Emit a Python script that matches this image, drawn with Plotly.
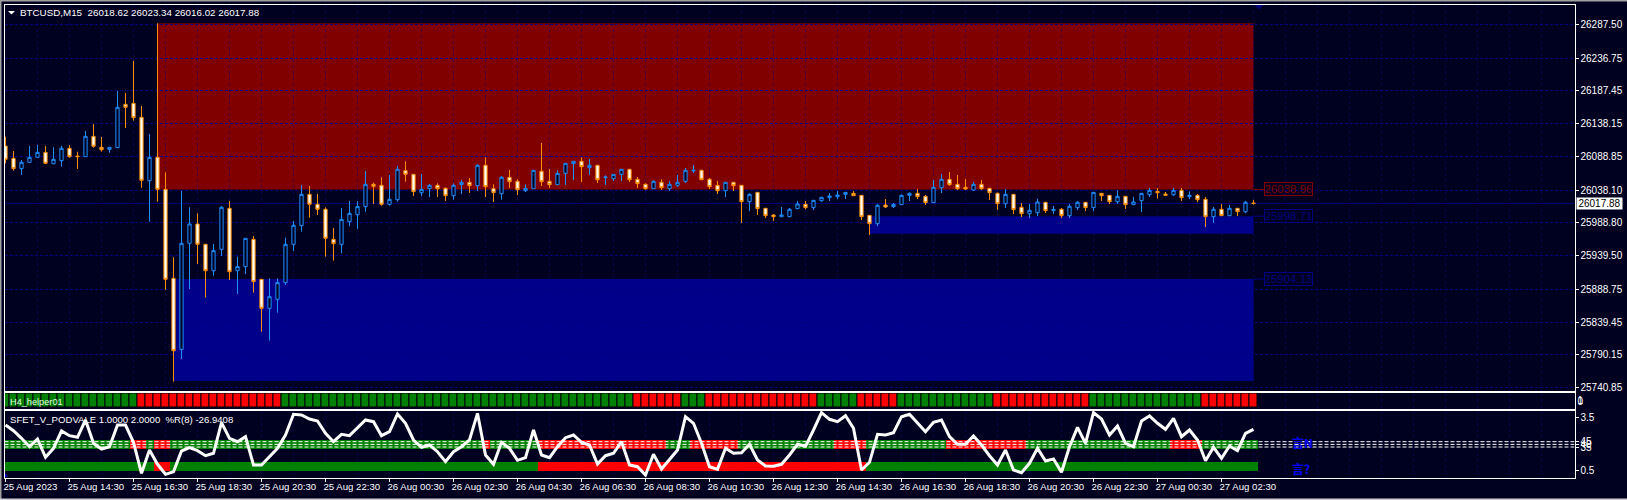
import plotly.graph_objects as go

W, H = 1627, 500
BG = "#000020"
NAVY = "#000080"
MAROON = "#800000"
DARKBLUE = "#00008B"
BULL = "#1E90FF"
BEAR = "#FF8C00"
FONT = "Liberation Sans"

header_text = "BTCUSD,M15  26018.62 26023.34 26016.02 26017.88"
helper_text = "H4_helper01"
indicator_text = "SFET_V_PODVALE 1.0000 2.0000  %R(8) -26.9408"
last_price = 26017.88

highs = [
26118.4,26096.8,26083.3,26104.4,26105.9,26104.4,26102.4,26104.4,26105.9,26095.8,
26126.9,26137.5,26117.9,26102.4,26187.1,26184.1,26232.3,26164.6,26122.4,26289.0,
26064.7,25936.8,26036.6,26012.1,26003.0,25956.9,25956.9,26014.1,26021.6,25937.8,
25965.4,25968.9,25903.7,25905.2,25905.2,25966.4,25991.5,26045.7,26044.2,26032.1,
26012.1,25981.0,26011.1,26021.6,26021.6,26066.7,26049.2,26057.2,26060.7,26074.3,
26081.3,26061.7,26062.2,26047.2,26048.2,26042.2,26048.2,26053.2,26056.2,26076.8,
26087.3,26046.7,26059.2,26068.3,26054.2,26046.7,26068.3,26108.9,26069.8,26067.8,
26078.8,26081.8,26087.3,26084.8,26075.8,26060.2,26061.7,26069.3,26069.3,26057.7,
26048.2,26052.7,26054.2,26051.7,26060.7,26071.3,26075.8,26068.3,26056.2,26051.7,
26050.2,26050.2,26045.7,26033.1,26034.6,26011.1,26002.0,26012.6,26011.1,26021.6,
26021.6,26023.1,26027.1,26033.6,26036.6,26034.6,26036.6,26030.1,26000.0,26017.1,
26024.6,26018.6,26031.6,26034.6,26039.6,26030.6,26053.2,26062.2,26065.2,26060.7,
26054.7,26050.2,26053.2,26041.2,26034.6,26039.6,26032.1,26018.6,26017.1,26025.1,
26020.1,26014.1,26011.1,26017.1,26021.6,26019.6,26034.6,26033.1,26030.1,26038.1,
26029.1,26027.6,26033.1,26041.2,26041.2,26035.1,26041.2,26041.2,26036.1,26032.1,
26027.6,26012.6,26017.1,26015.6,26010.6,26021.6,26023.34]

body_tops = [
26104.4,26085.8,26079.8,26087.3,26094.8,26094.8,26084.3,26100.9,26100.9,26089.3,
26118.9,26118.9,26102.4,26102.4,26162.6,26167.1,26168.6,26147.5,26087.3,26087.3,
26039.1,25905.2,25957.9,25987.0,25987.0,25956.4,25946.9,26012.1,26010.6,25922.8,
25965.4,25963.9,25903.7,25877.6,25898.7,25956.4,25985.0,26031.6,26031.6,26016.6,
26009.1,25963.9,25994.0,26003.0,26013.1,26046.7,26046.7,26045.2,26024.1,26069.3,
26067.3,26061.7,26039.1,26045.2,26045.2,26040.6,26045.2,26049.7,26049.7,26075.3,
26075.3,26040.1,26057.2,26057.2,26051.2,26040.6,26067.8,26066.3,26051.2,26063.2,
26078.3,26081.3,26081.3,26075.3,26075.3,26057.7,26061.7,26069.3,26069.3,26054.2,
26046.7,26051.2,26049.7,26046.7,26049.7,26067.8,26067.8,26067.8,26054.2,26045.2,
26049.7,26049.7,26045.2,26031.6,26034.6,26010.6,26000.5,26000.5,26009.1,26017.1,
26016.6,26022.6,26027.1,26029.1,26030.6,26034.6,26033.1,26030.1,26000.0,26015.1,
26015.6,26016.6,26030.1,26033.1,26033.1,26028.6,26042.2,26054.2,26054.2,26046.7,
26042.2,26046.7,26046.7,26040.6,26033.1,26031.6,26031.6,26012.1,26007.6,26020.1,
26019.6,26009.1,26009.1,26013.6,26019.6,26019.6,26034.6,26033.1,26030.1,26028.6,
26028.6,26020.1,26033.1,26037.6,26036.1,26032.1,26037.6,26037.6,26030.1,26030.1,
26024.1,26009.1,26009.1,26010.6,26010.6,26019.6,26018.62]

body_bottoms = [
26084.3,26070.3,26070.3,26079.8,26087.3,26078.3,26077.8,26082.3,26088.3,26088.3,
26088.3,26103.9,26098.8,26099.3,26101.9,26162.6,26147.0,26052.7,26052.2,26039.1,
25903.7,25796.3,25798.3,25957.9,25956.4,25916.7,25916.7,25948.9,25915.2,25916.7,
25922.8,25900.2,25860.0,25860.0,25873.6,25898.7,25956.4,25984.5,26016.6,26009.1,
25965.4,25957.4,25956.4,25990.5,26001.0,26013.1,26043.7,26016.6,26016.6,26023.6,
26061.7,26035.6,26034.1,26040.1,26040.1,26029.6,26029.6,26046.2,26044.7,26044.7,
26043.2,26034.1,26032.6,26050.7,26038.6,26037.1,26040.1,26050.7,26046.2,26046.2,
26063.2,26077.8,26073.3,26071.8,26053.7,26056.7,26055.2,26061.7,26053.7,26047.7,
26040.1,26040.1,26041.7,26040.1,26045.2,26051.2,26066.8,26053.7,26043.2,26037.1,
26037.1,26044.7,26020.6,26020.6,26010.1,25999.5,25998.0,25998.0,25998.0,26010.1,
26011.6,26011.6,26022.1,26026.6,26028.1,26031.6,26029.6,25998.0,25987.5,25987.5,
26012.6,26013.1,26016.1,26030.1,26028.1,26019.1,26019.1,26041.7,26046.2,26040.1,
26039.6,26038.1,26040.1,26034.1,26017.6,26017.6,26008.6,26002.5,26002.5,26004.0,
26007.1,26007.1,25999.5,25999.5,26011.6,26011.6,26011.6,26029.6,26020.6,26020.6,
26016.1,26016.1,26022.1,26031.1,26034.1,26030.1,26031.1,26026.6,26028.1,26023.6,
25998.0,25998.0,25999.5,25999.5,26005.5,26005.5,26017.88]

lows = [
26078.3,26067.3,26060.7,26079.3,26086.8,26077.3,26076.8,26073.3,26086.8,26069.8,
26088.3,26101.9,26095.8,26094.3,26101.9,26131.5,26142.5,26041.6,25990.5,26020.6,
25887.7,25749.7,25783.8,25889.2,25926.8,25876.1,25909.2,25938.8,25902.7,25881.6,
25911.7,25883.6,25824.9,25811.4,25853.5,25895.2,25946.4,25975.5,25996.5,26000.5,
25937.8,25931.8,25942.9,25983.5,25979.9,26005.5,26017.1,26014.6,26014.6,26020.6,
26050.7,26029.1,26029.1,26027.6,26027.6,26021.6,26023.6,26032.1,26033.6,26036.6,
26027.6,26020.1,26023.6,26041.2,26030.6,26035.1,26040.1,26044.2,26041.2,26045.7,
26045.7,26053.2,26050.2,26060.7,26048.7,26045.7,26051.7,26051.7,26050.2,26041.2,
26038.6,26039.6,26038.1,26036.6,26042.7,26048.7,26063.7,26053.2,26039.6,26032.1,
26027.6,26036.6,25988.5,26006.5,26000.5,25996.0,25991.5,25998.0,25997.5,26009.6,
26009.1,26008.1,26020.1,26021.6,26024.6,26024.6,26029.1,25993.0,25970.4,25984.0,
26011.1,26011.1,26015.6,26021.6,26024.6,26015.6,26018.6,26033.6,26044.2,26038.1,
26038.1,26036.6,26038.1,26023.1,26008.1,26011.1,26002.0,25997.5,25996.0,25999.0,
26003.5,26002.0,25996.0,25996.0,26008.1,26006.5,26006.5,26021.6,26017.1,26017.1,
26009.6,26015.6,26005.0,26027.6,26025.1,26029.6,26029.1,26021.6,26024.6,26020.1,
25982.5,25988.5,25999.0,25999.0,25999.0,26003.5,26016.02]

bearish_bars = [0,1,5,8,9,11,12,15,16,17,19,20,21,24,25,28,31,32,38,39,40,41,46,47,50,51,
54,55,58,60,61,63,64,67,68,72,74,78,79,80,82,87,88,89,91,92,94,95,96,100,106,107,108,110,
114,115,118,119,120,122,123,124,126,127,130,132,135,137,138,140,144,145,147,149,150,152,154,156]

williams_r = [
-20.0,-29.1,-41.3,-54.7,-42.4,-71.7,-57.3,-29.6,-37.1,-39.7,
-12.0,-49.3,-58.4,-54.7,-20.0,-20.0,-47.7,-97.3,-60.0,-82.9,
-98.9,-94.7,-61.6,-56.3,-61.1,-69.1,-65.3,-16.3,-41.3,-46.7,
-38.7,-84.0,-84.0,-70.7,-57.3,-36.0,-2.9,-4.0,-10.4,-13.6,
-33.3,-46.7,-34.9,-37.1,-24.3,-12.0,-14.7,-37.1,-30.7,-2.4,
-17.3,-44.0,-55.7,-52.0,-62.7,-78.7,-62.7,-54.7,-44.0,-1.3,
-68.0,-82.9,-47.7,-57.3,-76.5,-72.3,-28.0,-68.0,-72.3,-54.7,
-40.3,-36.0,-47.7,-52.0,-82.4,-69.1,-65.3,-46.7,-84.0,-86.7,
-100.0,-66.9,-90.4,-74.4,-60.0,-6.7,-17.3,-49.3,-86.7,-90.9,
-57.3,-65.3,-64.3,-50.9,-76.0,-85.6,-86.1,-82.9,-68.0,-50.9,
-54.1,-28.0,-0.1,-10.9,-14.7,-5.1,-25.3,-92.0,-79.7,-34.9,
-36.0,-32.3,-6.7,-2.9,-16.3,-30.7,-15.7,-12.0,-38.7,-50.9,
-50.9,-37.6,-52.0,-69.1,-84.0,-60.0,-92.0,-96.3,-81.3,-57.3,
-77.6,-74.4,-95.7,-54.7,-23.7,-49.3,-0.1,-10.4,-36.0,-21.6,
-49.3,-54.7,-13.6,-5.6,-17.3,-26.9,-9.3,-38.7,-28.0,-44.0,
-77.1,-55.7,-73.3,-53.6,-61.1,-33.3,-26.9408]

# Runs of bars drawn red in each colour strip (first, last), the rest are green
helper_red_runs = [(17,34),(79,84),(88,101),(107,111),(124,135),(150,156)]
upper_red_runs = [(16,17),(19,20),(60,60),(67,82),(86,91),(104,107),(118,127),(146,149)]
lower_red_runs = [(19,20),(67,107)]

upper_band = (1.75, 2.25)
lower_band = (0.5, 1.0)
level_values = [2.13, 1.98, 1.83]
level_labels = ["45", "40", "35"]
scale_ticks = [3.5, 0.5]

price_ticks = [26287.50,26236.75,26187.45,26138.15,26088.85,26038.10,25988.80,25939.50,
               25888.75,25839.45,25790.15,25740.85]
time_labels = ["25 Aug 2023","25 Aug 14:30","25 Aug 16:30","25 Aug 18:30","25 Aug 20:30",
 "25 Aug 22:30","26 Aug 00:30","26 Aug 02:30","26 Aug 04:30","26 Aug 06:30","26 Aug 08:30",
 "26 Aug 10:30","26 Aug 12:30","26 Aug 14:30","26 Aug 16:30","26 Aug 18:30","26 Aug 20:30",
 "26 Aug 22:30","27 Aug 00:30","27 Aug 02:30"]

zone_end = 156
# (first bar, top price, bottom price, colour)
zones = [(19, 26289.0, 26038.96, MAROON),
         (21, 25904.13, 25750.5, DARKBLUE),
         (108, 25998.71, 25972.4, DARKBLUE)]
zone_labels = [(26038.96, MAROON), (25998.71, NAVY), (25904.13, NAVY)]

n = len(highs)
x = list(range(n))
opens = [body_tops[i] if i in bearish_bars else body_bottoms[i] for i in x]
closes = [body_bottoms[i] if i in bearish_bars else body_tops[i] for i in x]


def run_colors(runs):
    red = {i for a, b in runs for i in range(a, b + 1)}
    return ["#FF0000" if i in red else "#008000" for i in x]


major = list(range(0, n, 8))
minor = [i for i in range(4, 196, 4) if i not in major]
x_range = [-0.125, 196.125]
VGRID = "rgba(0,0,128,0.45)"
grid = dict(showgrid=True, gridcolor=VGRID, griddash="3px,3px", gridwidth=1)


def px(v):
    return v / W


def py(v):
    return 1 - v / H


def xaxis(anchor, labels=False):
    d = dict(domain=[px(4.5), px(1574.5)], range=x_range, anchor=anchor, showline=True, mirror=True,
             linecolor="white", linewidth=1, zeroline=False, tickmode="array", tickvals=major,
             **grid, minor=dict(tickmode="array", tickvals=minor, showgrid=True,
                                gridcolor=VGRID, griddash="3px,3px", ticks=""))
    if labels:
        d.update(ticktext=time_labels, ticks="outside", ticklen=3, tickcolor="white", tickwidth=1,
                 showticklabels=True, ticklabelposition="outside right", tickangle=0, ticklabelshift=-3,
                 tickfont=dict(family=FONT, size=9.6, color="white"))
    else:
        d.update(ticks="", showticklabels=False)
    return d


fig = go.Figure()
fig.add_trace(go.Candlestick(
    x=x, open=opens, high=highs, low=lows, close=closes, xaxis="x", yaxis="y",
    increasing=dict(line=dict(color=BULL, width=1), fillcolor=BG),
    decreasing=dict(line=dict(color=BEAR, width=1), fillcolor="white"),
    whiskerwidth=0, hoverinfo="skip", showlegend=False))
fig.add_trace(go.Bar(x=x, y=[1] * n, base=0, width=1, xaxis="x2", yaxis="y2",
                     marker=dict(color=run_colors(helper_red_runs), line=dict(color="#000010", width=1)),
                     hoverinfo="skip", showlegend=False))
for band, runs in ((upper_band, upper_red_runs), (lower_band, lower_red_runs)):
    fig.add_trace(go.Bar(x=x, y=[band[1] - band[0]] * n, base=band[0], width=1, xaxis="x3", yaxis="y3",
                         marker=dict(color=run_colors(runs), line=dict(width=0)),
                         hoverinfo="skip", showlegend=False))
for lv in level_values:
    fig.add_trace(go.Scatter(x=x_range, y=[lv, lv], mode="lines", xaxis="x3", yaxis="y3",
                             line=dict(color="white", width=1, dash="4px,2px"),
                             hoverinfo="skip", showlegend=False))
fig.add_trace(go.Scatter(x=x, y=williams_r, mode="lines", xaxis="x3", yaxis="y4",
                         line=dict(color="white", width=3), hoverinfo="skip", showlegend=False))

shapes = []
for start, top, bottom, color in zones:
    shapes.append(dict(type="rect", xref="x", yref="y", x0=start, x1=zone_end, y0=bottom, y1=top,
                       fillcolor=color, line=dict(width=0), layer="below"))
shapes.append(dict(type="line", xref="x domain", yref="y", x0=0, x1=1, y0=last_price, y1=last_price,
                   line=dict(color=NAVY, width=1), layer="below"))
annotations = []
for price, color in zone_labels:
    shapes.append(dict(type="line", xref="x", yref="y", x0=zone_end, x1=157.4, y0=price, y1=price,
                       line=dict(color=color, width=1)))
    annotations.append(dict(xref="x", yref="y", x=157.35, y=price, xanchor="left", yanchor="middle",
                            text=f"{price:.2f}", showarrow=False, width=46, height=11, borderpad=0.5,
                            bordercolor=color, borderwidth=1, font=dict(family=FONT, size=11.5, color=color)))


def tri(x0, x1, y0, y1, color):
    xm = (x0 + x1) / 2
    return dict(type="path", xref="paper", yref="paper", fillcolor=color, line=dict(width=0),
                path=f"M {px(x0)} {py(y0)} L {px(x1)} {py(y0)} L {px(xm)} {py(y1)} Z")


shapes += [tri(8, 15, 11, 14.5, "white"), tri(1255, 1263, 5, 9.5, NAVY)]
shapes.append(dict(type="path", xref="paper", yref="paper", fillcolor="#0000C0", line=dict(width=0),
                   path=f"M {px(5)} {py(477)} L {px(8)} {py(477)} L {px(5)} {py(473)} Z"))
for a, b, c, d, col in ((0, W, 0, 1.5, "#A0A0A0"), (0, 1.5, 0, H, "#A0A0A0"), (0, W, 498.5, H, "#D0D0D0")):
    shapes.append(dict(type="rect", xref="paper", yref="paper", x0=px(a), x1=px(b), y0=py(c), y1=py(d),
                       fillcolor=col, line=dict(width=0)))

txt = dict(showarrow=False, xref="paper", yref="paper", xanchor="left", yanchor="middle")
annotations += [
    dict(x=px(18), y=py(12.5), text=header_text, font=dict(family=FONT, size=9.8, color="white"), **txt),
    dict(x=px(7.5), y=py(401.5), text=helper_text, font=dict(family=FONT, size=9.2, color="#E8FFE8"), **txt),
    dict(x=px(7.5), y=py(419.5), text=indicator_text, font=dict(family=FONT, size=9.6, color="white"), **txt),
    dict(x=px(1290), y=py(442), text="<b>言N</b>", font=dict(family="Noto Sans CJK SC", size=12, color="#0000FF"), **txt),
    dict(x=px(1290), y=py(468), text="<b>言?</b>", font=dict(family="Noto Sans CJK SC", size=12, color="#0000FF"), **txt),
    dict(x=px(1576), y=py(203.5), text=f"{last_price:.2f}", bgcolor="white", width=44, height=10, borderpad=0.5,
         font=dict(family=FONT, size=10, color="black"), **txt),
]

side_axis = dict(side="right", showline=True, mirror=True, linecolor="white", linewidth=1, zeroline=False,
                 ticks="outside", ticklen=3, tickcolor="white",
                 tickfont=dict(family=FONT, size=10, color="white"))

fig.update_layout(
    width=W, height=H, margin=dict(l=0, r=0, t=0, b=0, autoexpand=False),
    paper_bgcolor=BG, plot_bgcolor=BG, showlegend=False, hovermode=False,
    barmode="overlay", bargap=0, boxgap=0.42, shapes=shapes, annotations=annotations,
    xaxis=dict(xaxis("y"), rangeslider=dict(visible=False)),
    xaxis2=xaxis("y2"),
    xaxis3=xaxis("y3", labels=True),
    yaxis=dict(side_axis, domain=[py(390.5), py(4.5)], anchor="x", range=[25736.39, 26317.33],
               tickmode="array", tickvals=price_ticks, ticktext=[f"{p:.2f}" for p in price_ticks],
               showgrid=True, gridcolor=NAVY, griddash="3px,2px", gridwidth=1),
    yaxis2=dict(side_axis, domain=[py(408.5), py(392.5)], anchor="x2", range=[-0.05, 1.05],
                tickmode="array", tickvals=[0.52, 0.46], ticktext=["1", "0"], showgrid=False, ticks=""),
    yaxis3=dict(side_axis, domain=[py(477.5), py(410.5)], anchor="x3", range=[0.118, 3.882],
                tickmode="array", tickvals=scale_ticks + level_values,
                ticktext=[str(v) for v in scale_ticks] + level_labels, showgrid=False),
    yaxis4=dict(domain=[py(477.5), py(410.5)], anchor="x3", overlaying="y3", side="right", visible=False,
                range=[-104.0, 3.2]),
)

fig.write_html("out.html", config=dict(displayModeBar=False), post_script="document.body.style.margin='0';")
